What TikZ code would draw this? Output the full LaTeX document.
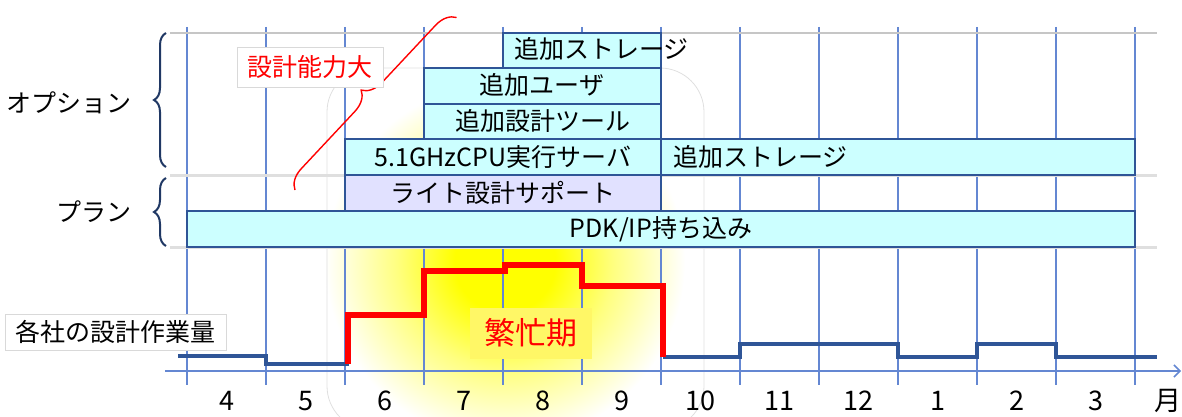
\documentclass[tikz,border=0pt]{standalone}
\usepackage{fontspec}
\setmainfont{Noto Sans CJK JP}
\usetikzlibrary{decorations.pathreplacing,arrows.meta,positioning}
\definecolor{gridblue}{RGB}{100,135,210}
\definecolor{barfill}{RGB}{204,255,255}
\definecolor{barline}{RGB}{47,85,151}
\definecolor{lavender}{RGB}{225,225,255}
\definecolor{navy}{RGB}{32,56,100}
\pgfdeclareradialshading{glow}{\pgfpoint{0bp}{0bp}}{color(0bp)=(yellow); color(7bp)=(yellow); color(15bp)=(yellow!50); color(25bp)=(white); color(50bp)=(white)}

\begin{document}
\begin{tikzpicture}[x=0.5pt, y=-0.5pt, font=\fontsize{12.5}{14}\selectfont,
	bar/.style={draw=barline, line width=0.8pt, fill=barfill},
	planbar/.style={bar, fill=lavender},
	tag/.style={draw=gray!30, fill=white, inner sep=0pt},
	grp/.style={draw=navy, line width=1pt, decorate, decoration={brace, amplitude=6pt}}]
	\useasboundingbox (0,0) rectangle (1182,417);
	\shade[shading=glow] (505,262) circle[radius=90pt];
	\draw[gray!25, rounded corners=22pt] (327,68) rectangle (704,430);
	\foreach \i in {0,...,12}
		\draw[gridblue, line width=0.6pt] ({187+79*\i},27) -- ({187+79*\i},385);
	\draw[gray!45, line width=0.8pt] (170,33) -- (1157,33);
	\draw[gray!25, line width=1.5pt] (170,175) -- (1157,175);
	\draw[gray!25, line width=1.5pt] (170,247) -- (1157,247);
	% options
	\draw[bar] (503,33) rectangle (661,68);
	\draw[bar] (424,68) rectangle (661,104);
	\draw[bar] (424,104) rectangle (661,139);
	\draw[bar] (345,139) rectangle (661,175);
	\draw[bar] (661,139) rectangle (1135,175);
	% plans
	\draw[planbar] (345,175) rectangle (661,211);
	\draw[bar] (187,211) rectangle (1135,247);
	\node[anchor=west] (stor1) at (507,49) {追加ストレージ};
	\node (user) at (542,85) {追加ユーザ};
	\node (tool) at (543,121) {追加設計ツール};
	\node (cpu) at (503,157) {5.1GHzCPU実行サーバ};
	\node[anchor=west] (stor2) at (666,157) {追加ストレージ};
	\node (lite) at (503,193) {ライト設計サポート};
	\node (pdk) at (661,229) {PDK/IP持ち込み};
	% groups
	\node[anchor=east] (opt) at (139,103) {オプション};
	\node[anchor=east] (plan) at (139,212) {プラン};
	\coordinate (opttop) at (166,33);
	\coordinate (optbot) at (166,167);
	\coordinate (plantop) at (166,178);
	\coordinate (planbot) at (166,246);
	\draw[grp] (optbot) -- (opttop);
	\draw[grp] (planbot) -- (plantop);
	\coordinate (capbot) at (295,190);
	\coordinate (captop) at (457,17);
	\draw[red, line width=0.7pt, decorate, decoration={brace, amplitude=10pt}] (capbot) -- (captop);
	\node[tag, text=red, minimum width=73pt, minimum height=20pt] (cap) at (310,67) {設計能力大};
	\node[tag, minimum width=110.5pt, minimum height=18pt] (work) at (115.5,332) {各社の設計作業量};
	% time axis
	\draw[gridblue, line width=0.8pt, -{Straight Barb[length=3pt]}] (165,371) -- (1181,371);
	\foreach \m [count=\k from 0] in {4,5,6,7,8,9,10,11,12,1,2,3}
		\node[font=\fontsize{13.5}{16}\selectfont] (m\k) at ({226.5+79*\k},401) {\m};
	\node[font=\fontsize{13.5}{16}\selectfont] (unit) at (1168,401) {月};
	% workload
	\node[fill=yellow!60, text=red, font=\fontsize{15.5}{18}\selectfont, minimum width=61pt, minimum height=25.5pt] (busy) at (531,333) {繁忙期};
	\draw[barline, line width=2pt] (178,356) -- (266,356) -- (266,364) -- (349,364);
	\draw[barline, line width=2pt] (663,357) -- (740,357) -- (740,344) -- (898,344) -- (898,357) -- (977,357) -- (977,344) -- (1056,344) -- (1056,357) -- (1157,357);
	\draw[red, line width=2.6pt] (348,364) -- (348,315) -- (424,315) -- (424,271) -- (505,271) -- (505,265) -- (582,265) -- (582,286) -- (663,286) -- (663,357);
\end{tikzpicture}
\end{document}
